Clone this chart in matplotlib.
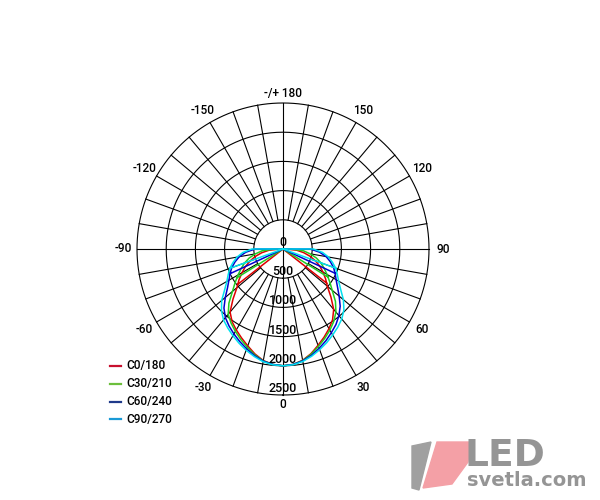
import numpy as np
import matplotlib
matplotlib.use("Agg")
import matplotlib.pyplot as plt
from matplotlib.lines import Line2D
from matplotlib.patches import Polygon

plt.rcParams['font.family'] = ['Roboto', 'DejaVu Sans']

# gamma angles (deg) and intensities (cd)
gamma = [0, 5, 10, 15, 20, 25, 30, 35, 40, 45, 50, 55, 60, 65, 70, 75, 80, 85, 90, 93]

c0_left = [2000, 1985, 1940, 1860, 1765, 1680, 1600, 1520, 1410, 1210,
           1030, 920, 810, 710, 600, 490, 370, 240, 60, 0]
c0_right = [2000, 1985, 1935, 1855, 1755, 1665, 1575, 1480, 1350, 1160,
            990, 890, 790, 695, 590, 480, 360, 235, 60, 0]
c30_left = [2000, 1985, 1945, 1875, 1790, 1710, 1630, 1550, 1460, 1310,
            1130, 1000, 890, 790, 700, 600, 480, 360, 150, 0]
c30_right = [2000, 1985, 1940, 1865, 1775, 1690, 1605, 1515, 1410, 1270,
             1100, 975, 870, 775, 690, 590, 470, 350, 150, 0]
c60_left = [2000, 1985, 1950, 1890, 1820, 1750, 1680, 1610, 1535, 1430,
            1290, 1160, 1070, 1000, 935, 850, 760, 640, 480, 0]
c60_right = [2000, 1985, 1945, 1885, 1810, 1735, 1655, 1580, 1490, 1385,
             1255, 1140, 1050, 985, 920, 840, 750, 630, 470, 0]
c90_left = [2000, 1990, 1960, 1905, 1845, 1780, 1715, 1650, 1585, 1490,
            1370, 1220, 1110, 1035, 970, 885, 800, 690, 530, 0]
c90_right = [2000, 1990, 1955, 1900, 1835, 1770, 1700, 1635, 1565, 1475,
             1350, 1205, 1100, 1025, 960, 875, 790, 680, 520, 0]

# angle where the straight line back to the centre meets each curve
inner_angle = [52, 58, 65, 70]

names = ['C0/180', 'C30/210', 'C60/240', 'C90/270']
line_colors = ['#dd0000', '#22cc22', '#0000cc', '#00e0ee']
legend_colors = ['#c8102e', '#6cbf3c', '#1f3a8a', '#1a9ad6']
lefts = [c0_left, c30_left, c60_left, c90_left]
rights = [c0_right, c30_right, c60_right, c90_right]

ring_values = [500, 1000, 1500, 2000, 2500]
ring_labels = ['0', '500', '1000', '1500', '2000', '2500']
angle_ticks = [0, 30, 60, 90, 120, 150, 180, -150, -120, -90, -60, -30]
angle_labels = ['0', '30', '60', '90', '120', '150', '-/+ 180',
                '-150', '-120', '-90', '-60', '-30']

fig = plt.figure(figsize=(6, 5), dpi=100)
fig.patch.set_facecolor('white')
ax = fig.add_axes([(283 - 146) / 600, (500 - 249 - 146) / 500, 292 / 600, 292 / 500],
                  projection='polar')
ax.set_theta_zero_location('S')
ax.set_theta_direction(1)
ax.set_ylim(0, 2500)
ax.set_axis_off()

# grid
t = np.linspace(0, 2 * np.pi, 361)
for rv in ring_values:
    ax.plot(t, np.full_like(t, rv), color='black', lw=0.8, clip_on=False, zorder=1)
for a in range(0, 360, 10):
    r0 = 0 if a % 90 == 0 else 500
    ax.plot([np.radians(a)] * 2, [r0, 2500], color='black', lw=0.8,
            clip_on=False, zorder=1)

# curves
g = np.array(gamma, dtype=float)
for left, right, ain, col in zip(lefts, rights, inner_angle, line_colors):
    li = np.interp(ain, g, left)
    ri = np.interp(ain, g, right)
    th = np.concatenate([[-ain, -ain, -g[-1]], -g[::-1], g[1:], [ain, ain]])
    rr = np.concatenate([[li, 0, 0], np.array(left)[::-1], np.array(right)[1:], [0, ri]])
    ax.plot(np.radians(th), rr, color=col, lw=1.1, zorder=3, clip_on=False)

# radial labels
for i, lab in enumerate(ring_labels):
    ax.text(0, i * 500, lab, ha='center', va='bottom', fontsize=9,
            fontweight='medium', color='black', zorder=4)

# angle labels
for a, lab in zip(angle_ticks, angle_labels):
    rr = 2670 if a in (0, 180) else 2740
    ax.text(np.radians(a), rr, lab, ha='center', va='center', fontsize=8.5,
            fontweight='medium', color='black', clip_on=False)

# legend
for i, (name, col) in enumerate(zip(names, legend_colors)):
    y = 1 - (366 + i * 17.8) / 500
    fig.add_artist(Line2D([110 / 600, 121 / 600], [y, y], color=col, lw=1.6,
                          transform=fig.transFigure))
    fig.text(126 / 600, y, name, va='center', ha='left', fontsize=8.5,
             fontweight='medium', color='black')

# watermark logo
def px(points):
    return [(x / 600, 1 - y / 500) for x, y in points]

fig.add_artist(Polygon(px([(412, 446), (431, 442), (419, 490), (412, 488)]),
                       closed=True, color='#a0a0a0', transform=fig.transFigure))
fig.add_artist(Polygon(px([(437, 442), (470, 442), (468, 462), (452, 484), (423, 488)]),
                       closed=True, color='#f4a0a6', transform=fig.transFigure))
fig.text(464 / 600, 1 - 456 / 500, 'LED', fontsize=27, fontweight='bold',
         color='#959595', va='center', ha='left', family='DejaVu Sans')
fig.text(467 / 600, 1 - 481 / 500, 'svetla.com', fontsize=14, fontweight='bold',
         color='#959595', va='center', ha='left', family='DejaVu Sans')

fig.savefig('out.png', dpi=100, facecolor='white')
